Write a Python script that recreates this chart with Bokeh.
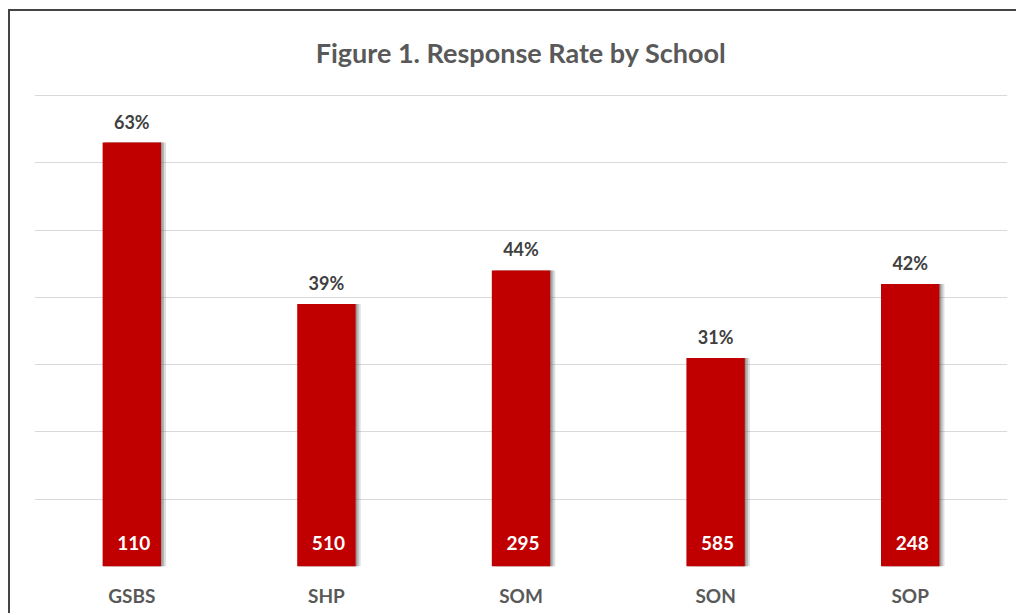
from bokeh.plotting import figure
from bokeh.models import ColumnDataSource, LabelSet, FixedTicker
from bokeh.core.properties import value
from bokeh.transform import dodge
from bokeh.embed import file_html
from bokeh.resources import INLINE

schools = ["GSBS", "SHP", "SOM", "SON", "SOP"]
rates = [63, 39, 44, 31, 42]
counts = [110, 510, 295, 585, 248]
y_ticks = [0, 10, 20, 30, 40, 50, 60, 70]
title_text = "Figure 1. Response Rate by School"

rate_labels = [f"{r}%" for r in rates]
count_labels = [str(c) for c in counts]

src = ColumnDataSource(dict(school=schools, rate=rates, zero=[0] * len(schools),
                            rate_label=rate_labels, count_label=count_labels))

FONT = "Lato"
Y_TOP = 70.3

p = figure(x_range=schools, y_range=(0, Y_TOP), width=1008, height=604,
           output_backend="svg", toolbar_location=None,
           min_border_left=24, min_border_right=11, min_border_top=82, min_border_bottom=49,
           title=title_text)
p.styles = {"margin-left": "8px", "margin-top": "9px",
            "border-left": "2px solid #444444", "border-top": "2px solid #444444"}

p.title.align = "center"
p.title.vertical_align = "top"
p.title.text_font = FONT
p.title.text_font_size = "27px"
p.title.text_font_style = "bold"
p.title.text_color = "#595959"
p.title.standoff = 46

p.outline_line_color = None
p.background_fill_color = "white"
p.border_fill_color = "white"

p.yaxis.visible = False
p.ygrid.ticker = FixedTicker(ticks=y_ticks)
p.ygrid.grid_line_color = "#d9d9d9"
p.ygrid.grid_line_width = 1
p.xgrid.grid_line_color = None

p.xaxis.axis_line_color = None
p.xaxis.major_tick_line_color = None
p.xaxis.minor_tick_line_color = None
p.xaxis.major_label_text_font = FONT
p.xaxis.major_label_text_font_size = "19px"
p.xaxis.major_label_text_font_style = "bold"
p.xaxis.major_label_text_color = "#595959"
p.xaxis.major_label_standoff = 11

# soft shadow
p.vbar(x=dodge("school", 0.026, range=p.x_range), top="rate", width=0.3, source=src,
       fill_color="#606060", fill_alpha=0.2, line_color=None)
p.vbar(x=dodge("school", 0.016, range=p.x_range), top="rate", width=0.3, source=src,
       fill_color="#606060", fill_alpha=0.3, line_color=None)
p.vbar(x=dodge("school", 0.007, range=p.x_range), top="rate", width=0.3, source=src,
       fill_color="#606060", fill_alpha=0.4, line_color=None)
p.vbar(x="school", top="rate", width=0.3, source=src,
       fill_color="#C00000", line_color=None)

p.add_layout(LabelSet(x="school", y="rate", text="rate_label", source=src,
                      text_align="center", text_baseline="alphabetic", y_offset=14,
                      text_font=value(FONT), text_font_size="18px", text_font_style="bold",
                      text_color="#404040"))
p.add_layout(LabelSet(x="school", y="zero", text="count_label", source=src,
                      text_align="center", text_baseline="alphabetic", y_offset=17, x_offset=2,
                      text_font=value(FONT), text_font_size="19px", text_font_style="bold",
                      text_color="white"))

open("out.html", "w").write(file_html(p, INLINE))
